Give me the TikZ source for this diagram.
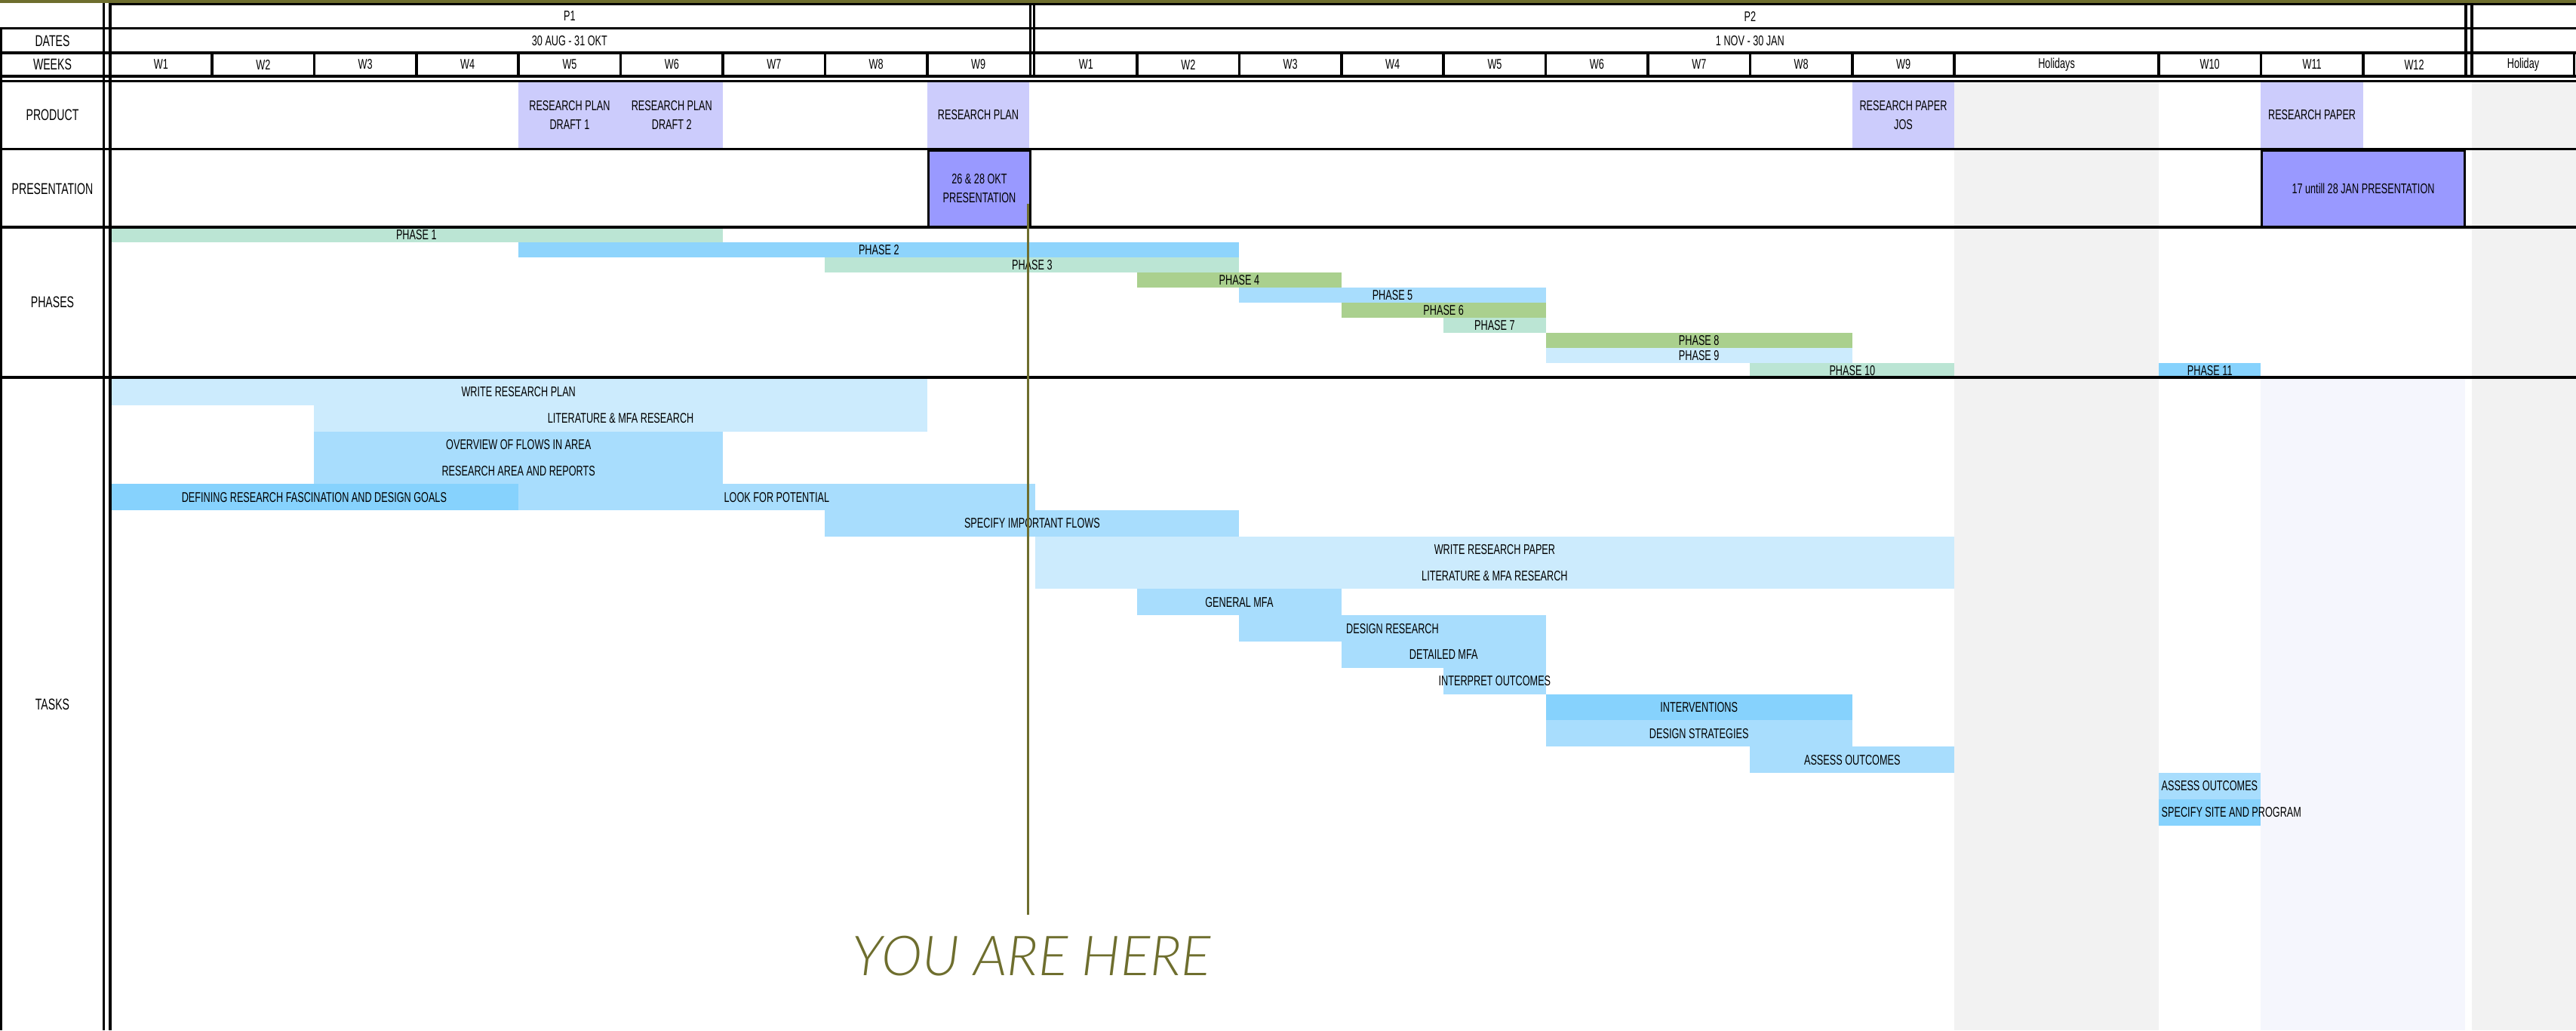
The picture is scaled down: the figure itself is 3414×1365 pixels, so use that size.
\documentclass[tikz,border=0pt]{standalone}
\usepackage{fontspec}
\setmainfont{Liberation Sans}[FakeStretch=0.68]
\newfontfamily\herefont{Lato Light Italic}
\usepackage{tikz}
\usetikzlibrary{positioning}
\definecolor{olivebar}{HTML}{6E6E2E}
\definecolor{mint}{HTML}{BBE5D4}
\definecolor{phaseblue}{HTML}{8ED4FC}
\definecolor{leafgreen}{HTML}{AAD08E}
\definecolor{skyblue}{HTML}{A8DDFD}
\definecolor{paleblue}{HTML}{CCEBFD}
\definecolor{deepblue}{HTML}{86D2FD}
\definecolor{lilac}{HTML}{CCCCFC}
\definecolor{presblue}{HTML}{9999FF}
\definecolor{holgray}{HTML}{F2F2F2}
\definecolor{lilacbg}{HTML}{F5F6FD}

\begin{document}
\begin{tikzpicture}[x=0.01cm, y=-0.01cm,
    txt/.style={font=\fontsize{5.3}{7.1}\selectfont, inner sep=0pt, align=center},
    lbl/.style={font=\fontsize{5.9}{7.1}\selectfont, inner sep=0pt},
    rule/.style={black, line width=1pt}]
  \useasboundingbox (0,0) rectangle (3414,1365);
  \fill[olivebar] (0,0) rectangle (3414,4);
  \fill[holgray] (2590.2,109) rectangle (2861,1365);
  \fill[holgray] (3276,109) rectangle (3414,1365);
  \fill[lilacbg] (2996.4,502) rectangle (3267.2,1365);

  \foreach \a/\t [count=\k] in {687.2/RESEARCH PLAN\\DRAFT 1, 822.6/RESEARCH PLAN\\DRAFT 2,
      1228.8/RESEARCH PLAN, 2454.8/RESEARCH PAPER\\JOS, 2996.4/RESEARCH PAPER}{
    \fill[lilac] (\a,109) rectangle ++(135.4,87);
    \node[txt] (prod\k) at (\a+67.7,152.5) {\t};
  }

  \foreach \t/\r/\a/\b/\c [count=\k] in {PHASE 1/1/145.6/958/mint, PHASE 2/2/687.2/1642.4/phaseblue,
      PHASE 3/3/1093.4/1642.4/mint, PHASE 4/4/1507/1777.8/leafgreen,
      PHASE 5/5/1642.4/2048.6/skyblue, PHASE 6/6/1777.8/2048.6/leafgreen,
      PHASE 7/7/1913.2/2048.6/mint, PHASE 8/8/2048.6/2454.8/leafgreen,
      PHASE 9/9/2048.6/2454.8/paleblue, PHASE 10/10/2319.4/2590.2/mint,
      PHASE 11/10/2861/2996.4/deepblue}{
    \fill[\c] (\a,281+20*\r) rectangle (\b,301+20*\r);
    \node[txt] (ph\k) at ({(\a+\b)/2},291+20*\r) {\t};
  }

  \foreach \t/\r/\a/\b/\c [count=\k] in {WRITE RESEARCH PLAN/1/145.6/1228.8/paleblue,
      LITERATURE \& MFA RESEARCH/2/416.4/1228.8/paleblue,
      OVERVIEW OF FLOWS IN AREA/3/416.4/958/skyblue,
      RESEARCH AREA AND REPORTS/4/416.4/958/skyblue,
      DEFINING RESEARCH FASCINATION AND DESIGN GOALS/5/145.6/687.2/deepblue,
      LOOK FOR POTENTIAL/5/687.2/1371.6/skyblue,
      SPECIFY IMPORTANT FLOWS/6/1093.4/1642.4/skyblue,
      WRITE RESEARCH PAPER/7/1371.6/2590.2/paleblue,
      LITERATURE \& MFA RESEARCH/8/1371.6/2590.2/paleblue,
      GENERAL MFA/9/1507/1777.8/skyblue,
      DESIGN RESEARCH/10/1642.4/2048.6/skyblue,
      DETAILED MFA/11/1777.8/2048.6/skyblue,
      INTERPRET OUTCOMES/12/1913.2/2048.6/skyblue,
      INTERVENTIONS/13/2048.6/2454.8/deepblue,
      DESIGN STRATEGIES/14/2048.6/2454.8/skyblue,
      ASSESS OUTCOMES/15/2319.4/2590.2/skyblue}{
    \fill[\c] (\a,467.2+34.8*\r) rectangle (\b,502+34.8*\r);
    \node[txt] (task\k) at ({(\a+\b)/2},484.6+34.8*\r) {\t};
  }
  \fill[skyblue] (2861,1024) rectangle (2996.4,1058.8);
  \fill[deepblue] (2861,1058.8) rectangle (2996.4,1093.6);
  \node[txt, anchor=west] (assess) at (2864,1041.4) {ASSESS OUTCOMES};
  \node[txt, anchor=west] (site) at (2864,1076.2) {SPECIFY SITE AND PROGRAM};

  \foreach \y in {37.5,70,101,107.5,197.5,301,500}
    \draw[rule] (0,\y) -- (3414,\y);
  \draw[rule] (144,5.5) -- (3414,5.5);
  \draw[rule] (1.5,36) -- (1.5,1365);
  \foreach \x in {137.5,146}
    \draw[rule] (\x,4) -- (\x,1365);
  \foreach \x in {1365.5,1370.5,3268,3276}
    \draw[rule] (\x,4) -- (\x,103);
  \foreach \i in {1,...,8}
    \draw[rule] (145.6+135.4*\i,70) -- (145.6+135.4*\i,101);
  \foreach \i in {1,2,3,4,5,6,7,8,9,11,12,13}
    \draw[rule] (1371.6+135.4*\i,70) -- (1371.6+135.4*\i,101);
  \draw[rule] (3411.5,70) -- (3411.5,101);

  \draw[rule, fill=presblue] (1230.5,199) rectangle (1365.5,301);
  \node[txt] (pres1) at (1298,250) {26 \& 28 OKT\\PRESENTATION};
  \draw[rule, fill=presblue] (2997.5,199) rectangle (3266.5,301);
  \node[txt] (pres2) at (3132,250) {17 untill 28 JAN PRESENTATION};

  \node[txt] (pone) at (754.9,21.5) {P1};
  \node[txt] (ptwo) at (2319.4,21.5) {P2};
  \node[txt] (done) at (754.9,54) {30 AUG - 31 OKT};
  \node[txt] (dtwo) at (2319.4,54) {1 NOV - 30 JAN};
  \foreach \i in {1,...,9}{
    \node[txt] (wa\i) at (78+135.4*\i,85.5) {W\i};
    \node[txt] (wb\i) at (1304+135.4*\i,85.5) {W\i};
  }
  \node[txt] (hol) at (2725.6,85.5) {Holidays};
  \node[txt] (wb10) at (2928.7,85.5) {W10};
  \node[txt] (wb11) at (3064.1,85.5) {W11};
  \node[txt] (wb12) at (3199.5,85.5) {W12};
  \node[txt] (hol2) at (3344,85.5) {Holiday};

  \node[lbl] (lbldates) at (69.5,54) {DATES};
  \node[lbl] (lblweeks) at (69.5,85.5) {WEEKS};
  \node[lbl] (lblprod) at (69.5,152.5) {PRODUCT};
  \node[lbl] (lblpres) at (69.5,250) {PRESENTATION};
  \node[lbl] (lblphase) at (69.5,400) {PHASES};
  \node[lbl] (lbltask) at (69.5,933) {TASKS};

  \coordinate (nowtop) at (1362.5,270);
  \coordinate (nowbot) at (1362.5,1212);
  \draw[olivebar, line width=0.8pt] (nowtop) -- (nowbot);
  \node[font=\herefont\fontsize{20.8}{22}\selectfont, text=olivebar, inner sep=0pt,
    below=0.27cm of nowbot, xshift=0.05cm] (here) {YOU ARE HERE};
\end{tikzpicture}
\end{document}
